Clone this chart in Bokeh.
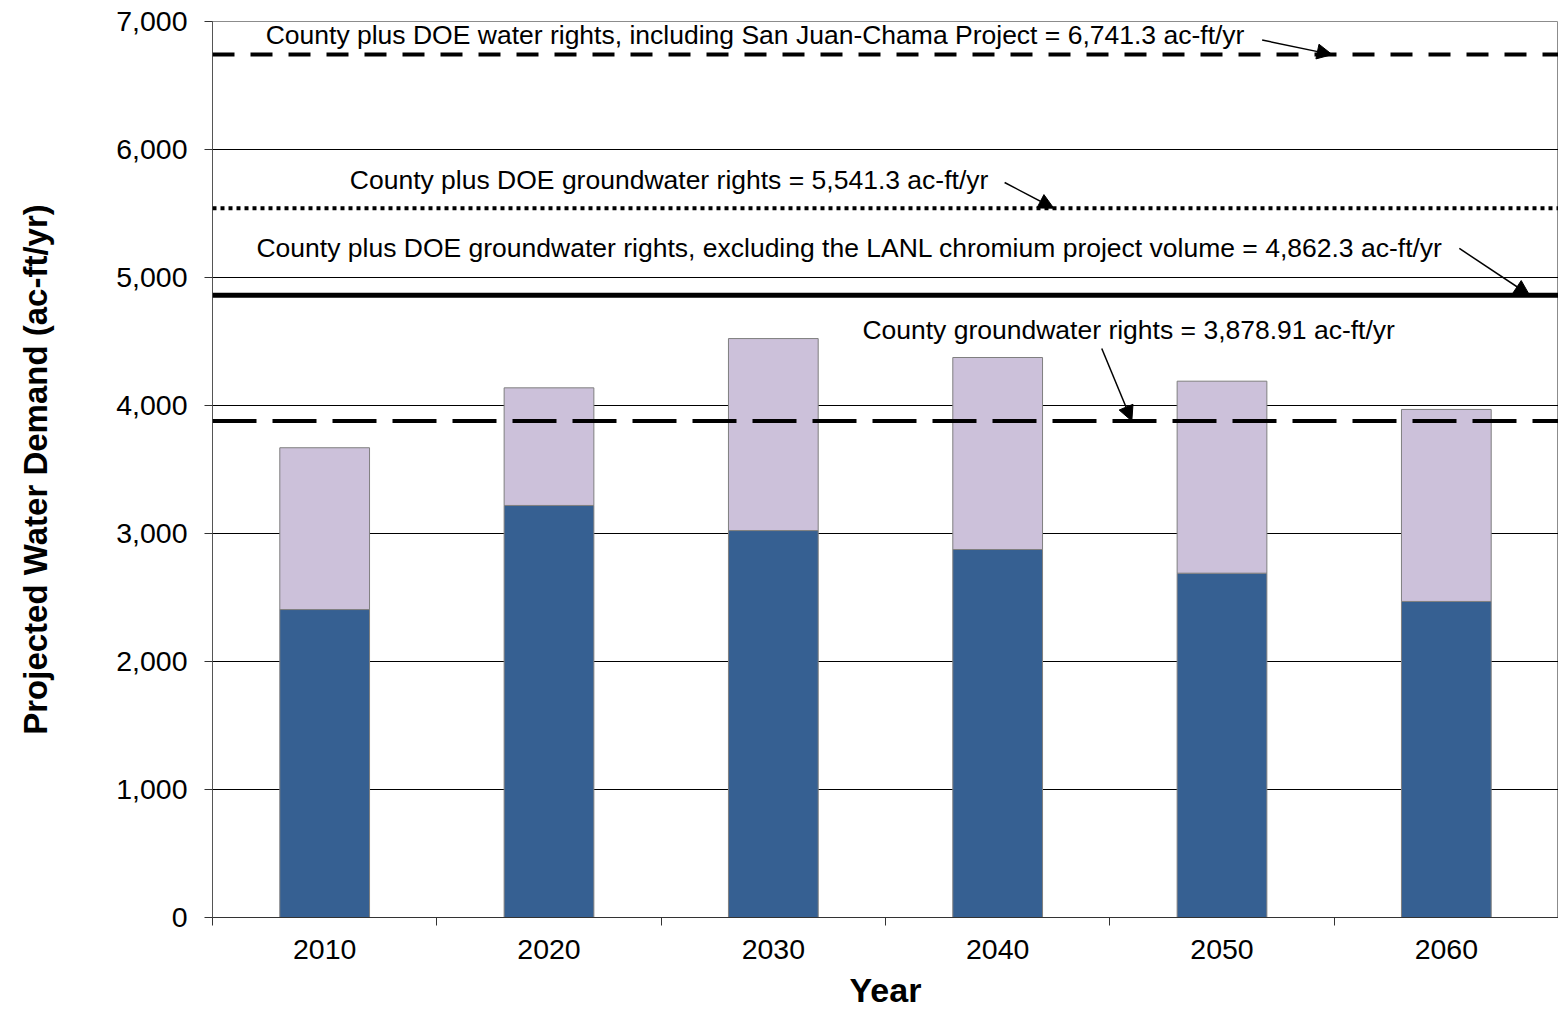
from bokeh.plotting import figure
from bokeh.models import (Range1d, FixedTicker, NumeralTickFormatter, Span, Label,
                          Arrow, NormalHead, ColumnDataSource)
from bokeh.embed import file_html
from bokeh.resources import INLINE

# Projected demand by decade (ac-ft/yr)
years = ["2010", "2020", "2030", "2040", "2050", "2060"]
base_demand = [2406, 3219, 3023, 2875, 2690, 2469]
added_demand = [1264, 919, 1500, 1500, 1500, 1500]

# Water-rights limits (ac-ft/yr)
limit_values = [6741.3, 5541.3, 4862.3, 3878.91]
limit_texts = [
    "County plus DOE water rights, including San Juan-Chama Project = 6,741.3 ac-ft/yr",
    "County plus DOE groundwater rights = 5,541.3 ac-ft/yr",
    "County plus DOE groundwater rights, excluding the LANL chromium project volume = 4,862.3 ac-ft/yr",
    "County groundwater rights = 3,878.91 ac-ft/yr",
]

y_ticks = [0, 1000, 2000, 3000, 4000, 5000, 6000, 7000]

FONT = "Liberation Sans"
DARK = "#366092"
LIGHT = "#CCC1DA"

xs = [i + 0.5 for i in range(len(years))]
src = ColumnDataSource(dict(x=xs, base=base_demand, added=added_demand))

p = figure(width=1558, height=1011, output_backend="svg", toolbar_location=None,
           x_range=Range1d(0, len(years)), y_range=Range1d(0, 7000),
           min_border_left=212, min_border_right=0, min_border_top=21, min_border_bottom=94)
p.outline_line_color = "#8c8c8c"
p.outline_line_width = 1
p.background_fill_color = "white"
p.border_fill_color = "white"

p.vbar_stack(["base", "added"], x="x", width=0.4, source=src,
             fill_color=[DARK, LIGHT], line_color="#7f7f7f", line_width=1)

# horizontal grid only
p.xgrid.grid_line_color = None
p.ygrid.grid_line_color = "black"
p.ygrid.grid_line_width = 1
p.ygrid.ticker = FixedTicker(ticks=y_ticks)

# y axis
ya = p.yaxis[0]
ya.ticker = FixedTicker(ticks=y_ticks)
ya.formatter = NumeralTickFormatter(format="0,0")
ya.axis_line_color = "#555555"
ya.major_tick_line_color = "#333333"
ya.major_tick_out = 8
ya.major_tick_in = 0
ya.minor_tick_line_color = None
ya.major_label_text_font = FONT
ya.major_label_text_font_size = "28.5px"
ya.major_label_text_color = "black"
ya.major_label_standoff = 17
ya.axis_label = "Projected Water Demand (ac-ft/yr)"
ya.axis_label_text_font = FONT
ya.axis_label_text_font_style = "bold"
ya.axis_label_text_font_size = "33px"
ya.axis_label_text_color = "black"
ya.axis_label_standoff = 59

# x axis: labels centred on bars, tick marks between categories
xa = p.xaxis[0]
xa.ticker = FixedTicker(ticks=xs, minor_ticks=list(range(len(years) + 1)))
xa.major_label_overrides = {x: y for x, y in zip(xs, years)}
xa.axis_line_color = "#333333"
xa.major_tick_line_color = None
xa.major_tick_out = 0
xa.major_tick_in = 0
xa.minor_tick_line_color = "#333333"
xa.minor_tick_out = 8
xa.minor_tick_in = 0
xa.major_label_text_font = FONT
xa.major_label_text_font_size = "28.5px"
xa.major_label_text_color = "black"
xa.major_label_standoff = 14
xa.axis_label = "Year"
xa.axis_label_text_font = FONT
xa.axis_label_text_font_style = "bold"
xa.axis_label_text_font_size = "34px"
xa.axis_label_text_color = "black"
xa.axis_label_standoff = 9

# limit lines
line_styles = [("22 16", 4), ("4 4", 4), ("solid", 5), ("44 16", 4)]
for val, (dash, w) in zip(limit_values, line_styles):
    p.add_layout(Span(location=val, dimension="width", line_color="black",
                      line_width=w, line_dash=dash, line_cap="butt"))

# annotation text and pointer arrows
text_x = [0.237, 0.612, 0.196, 2.897]
text_y = [6895, 5758, 5234, 4586]
arrow_start = [(4.679, 6855), (3.531, 5742), (5.558, 5227), (3.964, 4445)]
arrow_end_x = [4.991, 3.75, 5.871, 4.098]

for t, tx, ty in zip(limit_texts, text_x, text_y):
    p.add_layout(Label(x=tx, y=ty, text=t, text_font=FONT, text_font_size="26.5px",
                       text_color="black", text_align="left", text_baseline="middle"))

for (sx, sy), ex, val in zip(arrow_start, arrow_end_x, limit_values):
    p.add_layout(Arrow(x_start=sx, y_start=sy, x_end=ex, y_end=val,
                       line_color="black", line_width=1.5,
                       end=NormalHead(size=15, fill_color="black", line_color="black")))

open("out.html", "w").write(file_html(p, INLINE))
